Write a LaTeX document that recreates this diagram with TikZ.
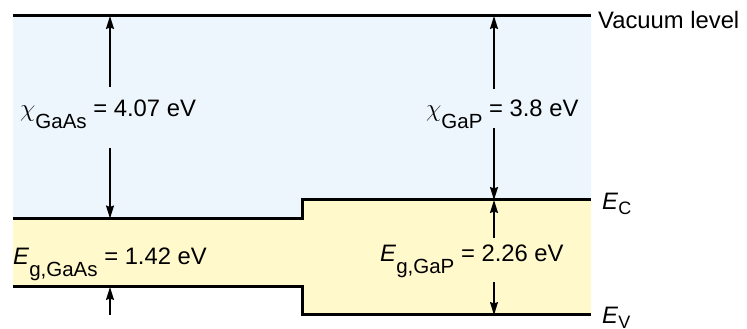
\documentclass[tikz,border=0pt]{standalone}
\usepackage{fontspec}
\setmainfont{Liberation Sans}
\usepackage{xcolor}
\usetikzlibrary{arrows.meta}

\definecolor{vacblue}{RGB}{238,246,253}
\definecolor{gapyellow}{RGB}{255,249,204}
\newcommand{\lowsub}[1]{\raisebox{-12pt}{\fontsize{20.5}{20.5}\selectfont #1}}
\newcommand{\bandsub}[1]{\raisebox{-5pt}{\fontsize{18}{18}\selectfont #1}}
\newcommand{\affin}{{\fontsize{26}{30}\selectfont$\chi$}}

\begin{document}
\begin{tikzpicture}[>={Stealth[length=13pt, width=8pt, inset=1.5pt]}, x=1pt, y=1pt,
    font=\fontsize{23.8}{28}\selectfont,
    lbl/.style={anchor=base west, inner sep=0pt},
    level/.style={line width=3pt, line join=miter},
    gaparrow/.style={line width=1.3pt, ->}]
  \def\xl{13}    % left edge
  \def\xs{302}   % interface
  \def\xr{591}   % right edge
  \def\yvac{313} % vacuum level
  \def\ycA{110.5}\def\yvA{42} % GaAs bands
  \def\ycB{129}\def\yvB{14}   % GaP bands
  \def\xa{110}\def\xb{494}    % arrow positions

  \useasboundingbox (0,0) rectangle (747,329);

  % Backgrounds
  \fill[vacblue] (\xl,\yvac) -- (\xr,\yvac) -- (\xr,\ycB) -- (\xs,\ycB) -- (\xs,\ycA) -- (\xl,\ycA) -- cycle;
  \fill[gapyellow] (\xl,\ycA) -- (\xs,\ycA) -- (\xs,\ycB) -- (\xr,\ycB) -- (\xr,\yvB) -- (\xs,\yvB) -- (\xs,\yvA) -- (\xl,\yvA) -- cycle;

  % Band lines
  \draw[level] (\xl,\yvac) -- (\xr,\yvac);
  \draw[level] (\xl,\ycA) -- (\xs,\ycA) -- (\xs,\ycB) -- (\xr,\ycB);
  \draw[level] (\xl,\yvA) -- (\xs,\yvA) -- (\xs,\yvB) -- (\xr,\yvB);

  % Points on the levels
  \coordinate (vacA) at (\xa,\yvac);
  \coordinate (ecA) at (\xa,\ycA);
  \coordinate (evA) at (\xa,\yvA);
  \coordinate (footA) at (\xa,14);
  \coordinate (vacB) at (\xb,\yvac);
  \coordinate (ecB) at (\xb,\ycB);
  \coordinate (evB) at (\xb,\yvB);

  % Labels
  \node[lbl] (chiA) at (20,212) {\affin\lowsub{GaAs} = 4.07 eV};
  \node[lbl] (chiB) at (426,212) {\affin\lowsub{GaP} = 3.8 eV};
  \node[lbl] (egA) at (13,64) {\textit{E}\lowsub{g,GaAs} = 1.42 eV};
  \node[lbl] (egB) at (380,67) {\textit{E}\lowsub{g,GaP} = 2.26 eV};
  \node[lbl] (vac) at (598,300) {Vacuum level};
  \node[lbl] (ec) at (602,119) {\textit{E}\bandsub{C}};
  \node[lbl] (ev) at (602,5) {\textit{E}\bandsub{V}};

  % Electron affinities
  \draw[gaparrow] ([yshift=13pt]chiA.north -| vacA) -- (vacA);
  \draw[gaparrow] ([yshift=-19pt]chiA.south -| ecA) -- (ecA);
  \draw[gaparrow] ([yshift=11pt]chiB.north -| vacB) -- (vacB);
  \draw[gaparrow] ([yshift=1pt]chiB.south -| ecB) -- (ecB);

  % Band gaps
  \draw[gaparrow] (footA) -- (evA);
  \draw[gaparrow] ([yshift=7pt]egB.north -| ecB) -- (ecB);
  \draw[gaparrow] ([yshift=-4pt]egB.south -| evB) -- (evB);
\end{tikzpicture}
\end{document}
